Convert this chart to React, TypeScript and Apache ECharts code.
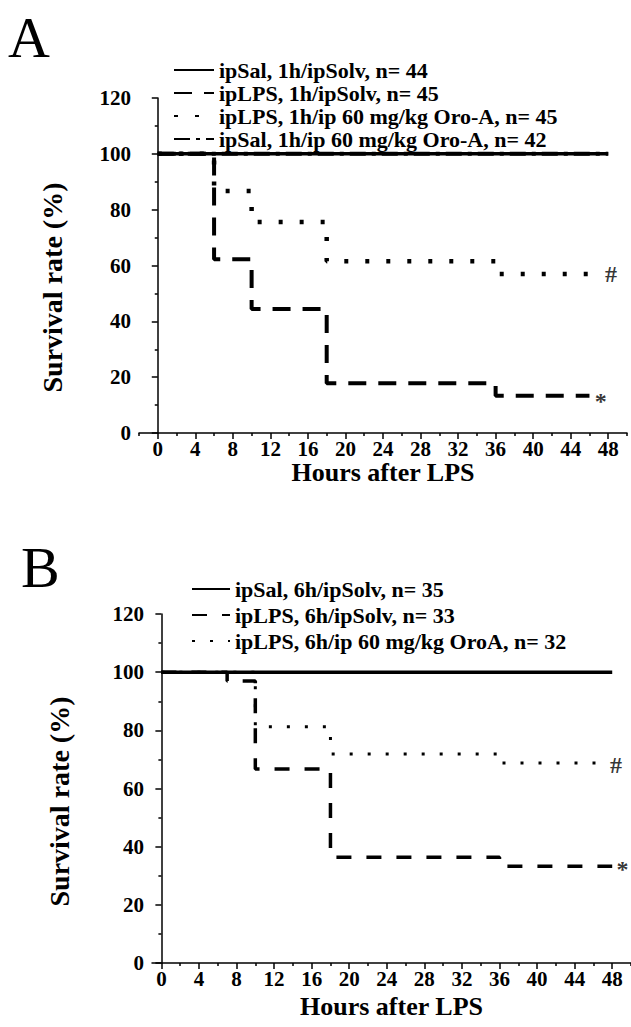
import React, { useEffect, useRef } from "react";
import * as echarts from "echarts";

// ---------- data ----------
const majorHours = [0, 4, 8, 12, 16, 20, 24, 28, 32, 36, 40, 44, 48];
const minorHoursA = [-2, 2, 6, 10, 14, 18, 22, 26, 30, 34, 38, 42, 46, 50];
const minorHoursB = [2, 6, 10, 14, 18, 22, 26, 30, 34, 38, 42, 46, 50];

// Panel A (1 h pretreatment)
const namesA = [
  "ipSal, 1h/ipSolv, n= 44",
  "ipLPS, 1h/ipSolv, n= 45",
  "ipLPS, 1h/ip 60 mg/kg Oro-A, n= 45",
  "ipSal, 1h/ip 60 mg/kg Oro-A, n= 42",
];
const aSalSolvHours = [0, 48];
const aSalSolvSurv = [100, 100];
const aLpsSolvHours = [0, 6, 10, 18, 36, 46];
const aLpsSolvSurv = [100, 62.2, 44.4, 17.8, 13.3, 13.3];
const aLpsOroHours = [0, 6, 10, 18, 36, 47];
const aLpsOroSurv = [100, 86.7, 75.6, 61.5, 57, 57];
const aSalOroHours = [0, 48];
const aSalOroSurv = [100, 100];
const aMarks = [
  { text: "#", hour: 48.3, surv: 57 },
  { text: "*", hour: 47.2, surv: 11.5 },
];

// Panel B (6 h pretreatment)
const namesB = [
  "ipSal, 6h/ipSolv, n= 35",
  "ipLPS, 6h/ipSolv, n= 33",
  "ipLPS, 6h/ip 60 mg/kg OroA, n= 32",
];
const bSalSolvHours = [0, 48];
const bSalSolvSurv = [100, 100];
const bLpsSolvHours = [0, 7, 10, 18, 36, 48];
const bLpsSolvSurv = [100, 97, 66.7, 36.4, 33.3, 33.3];
const bLpsOroHours = [0, 10, 18, 36, 47];
const bLpsOroSurv = [100, 81.25, 71.9, 68.75, 68.75];
const bMarks = [
  { text: "#", hour: 48.4, surv: 68 },
  { text: "*", hour: 49.1, surv: 32.3 },
];

const zip = (h: number[], v: number[]) => h.map((x, i) => [x, v[i]]);

const SERIF = "'Liberation Serif', 'DejaVu Serif', serif";
const BLACK = "#000";

function xAxes(grid: number, min: number, max: number, minor: number[], nameGap: number) {
  return [
    {
      type: "value",
      gridIndex: grid,
      position: "bottom",
      min,
      max,
      splitLine: { show: false },
      axisLine: { show: true, onZero: false, lineStyle: { color: BLACK, width: 1.5 } },
      axisTick: { show: true, customValues: majorHours, length: 6, lineStyle: { color: BLACK, width: 1.5 } },
      axisLabel: {
        customValues: majorHours,
        color: BLACK,
        fontFamily: SERIF,
        fontWeight: "bold",
        fontSize: 21,
        margin: 5,
      },
      name: "Hours after LPS",
      nameLocation: "middle",
      nameGap,
      nameTextStyle: { color: BLACK, fontFamily: SERIF, fontWeight: "bold", fontSize: 26 },
    },
    {
      type: "value",
      gridIndex: grid,
      position: "bottom",
      min,
      max,
      splitLine: { show: false },
      axisLine: { show: false },
      axisTick: { show: true, customValues: minor, length: 3, lineStyle: { color: BLACK, width: 1.5 } },
      axisLabel: { show: false },
    },
  ];
}

function yAxis(grid: number, nameGap: number, shift: number) {
  return {
    type: "value",
    gridIndex: grid,
    min: 0,
    max: 120,
    interval: 20,
    splitLine: { show: false },
    axisLine: { show: true, lineStyle: { color: BLACK, width: 1.5 } },
    axisTick: { show: true, length: 6, lineStyle: { color: BLACK, width: 1.5 } },
    minorTick: { show: true, splitNumber: 2, length: 3, lineStyle: { color: BLACK, width: 1.5 } },
    axisLabel: { color: BLACK, fontFamily: SERIF, fontWeight: "bold", fontSize: 21, margin: 8 },
    name: "Survival rate (%)",
    nameLocation: "middle",
    nameGap,
    nameTextStyle: {
      color: BLACK,
      fontFamily: SERIF,
      fontWeight: "bold",
      fontSize: 28,
      padding: [0, shift, 0, 0],
    },
  };
}

function line(name: string, data: number[][], xi: number, yi: number, width: number, type: any) {
  return {
    name,
    type: "line",
    step: "end",
    xAxisIndex: xi,
    yAxisIndex: yi,
    data,
    symbol: "none",
    lineStyle: { color: BLACK, width, type, cap: "butt" },
    itemStyle: { color: BLACK },
  };
}

function marks(list: { text: string; hour: number; surv: number }[], xi: number, yi: number) {
  return list.map((m) => ({
    type: "scatter",
    xAxisIndex: xi,
    yAxisIndex: yi,
    data: [[m.hour, m.surv]],
    symbolSize: 1,
    itemStyle: { color: "rgba(0,0,0,0)" },
    label: {
      show: true,
      position: "inside",
      formatter: () => m.text,
      color: BLACK,
      fontFamily: SERIF,
      fontWeight: "bold",
      fontSize: 24,
    },
  }));
}

const legendText = { color: BLACK, fontFamily: SERIF, fontWeight: "bold", fontSize: 22, lineHeight: 20 };
const legendItemStyle = { color: "rgba(0,0,0,0)", borderColor: "rgba(0,0,0,0)", borderWidth: 0, opacity: 0 };

export default function App() {
  const ref = useRef<HTMLDivElement>(null);
  useEffect(() => {
    if (!ref.current) return;
    const chart = echarts.init(ref.current, undefined, { renderer: "svg" });
    chart.setOption({
      animation: false,
      backgroundColor: "#fff",
      grid: [
        { left: 139, top: 98, width: 488, height: 335 },
        { left: 152, top: 614, width: 481, height: 349 },
      ],
      xAxis: [...xAxes(0, -2, 50, minorHoursA, 23), ...xAxes(1, -1, 50, minorHoursB, 30)],
      yAxis: [yAxis(0, 73, 44), yAxis(1, 79, 26)],
      legend: [
        {
          data: namesA,
          orient: "vertical",
          left: 168,
          top: 54,
          itemWidth: 40,
          itemHeight: 12,
          itemGap: 1,
          selectedMode: false,
          itemStyle: legendItemStyle,
          textStyle: legendText,
        },
        {
          data: namesB,
          orient: "vertical",
          left: 186,
          top: 573,
          itemWidth: 38,
          itemHeight: 12,
          itemGap: 4,
          selectedMode: false,
          itemStyle: legendItemStyle,
          textStyle: legendText,
        },
      ],
      graphic: [
        { type: "text", left: 8, top: 8, style: { text: "A", font: `58px ${SERIF}`, fill: BLACK } },
        { type: "text", left: 21, top: 538, style: { text: "B", font: `58px ${SERIF}`, fill: BLACK } },
      ],
      series: [
        line(namesA[0], zip(aSalSolvHours, aSalSolvSurv), 0, 0, 3.5, "solid"),
        line(namesA[1], zip(aLpsSolvHours, aLpsSolvSurv), 0, 0, 4, [18, 12]),
        line(namesA[2], zip(aLpsOroHours, aLpsOroSurv), 0, 0, 4.5, [4, 17]),
        line(namesA[3], zip(aSalOroHours, aSalOroSurv), 0, 0, 4, [16, 6, 4, 6]),
        ...marks(aMarks, 0, 0),
        line(namesB[0], zip(bSalSolvHours, bSalSolvSurv), 2, 1, 3.5, "solid"),
        line(namesB[1], zip(bLpsSolvHours, bLpsSolvSurv), 2, 1, 3.5, [15, 15]),
        line(namesB[2], zip(bLpsOroHours, bLpsOroSurv), 2, 1, 3, [3, 15]),
        ...marks(bMarks, 2, 1),
      ],
    });
    return () => chart.dispose();
  }, []);
  return (
    <div
      ref={ref}
      style={{ position: "fixed", left: 0, top: 0, width: 631, height: 1027, background: "#fff" }}
    />
  );
}
